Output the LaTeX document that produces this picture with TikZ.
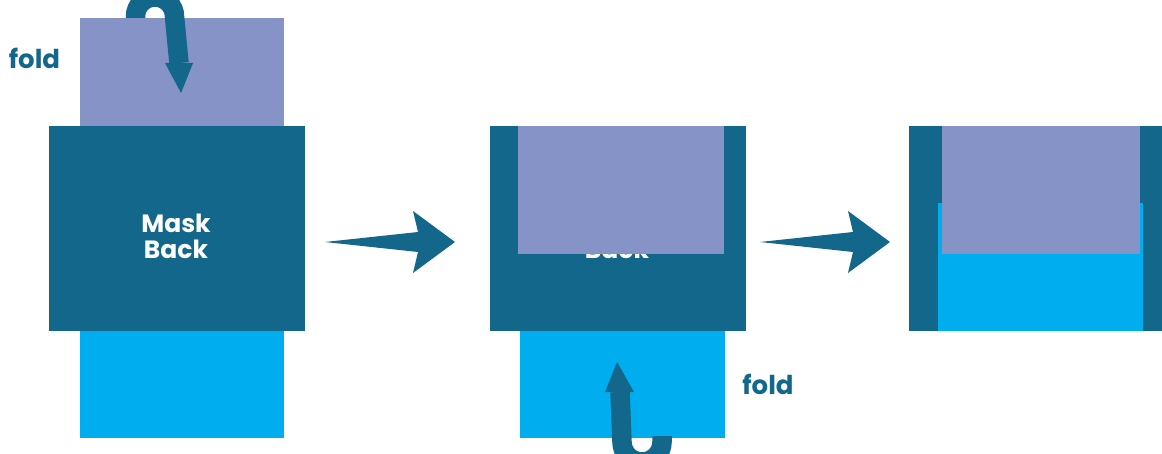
\documentclass[tikz,border=0pt]{standalone}
\usepackage{fontspec}
\setmainfont{Poppins}
\usepackage{tikz}
\definecolor{maskdark}{HTML}{13678A}
\definecolor{maskpurple}{HTML}{8593C7}
\definecolor{maskblue}{HTML}{00AEEF}

\begin{document}
\begin{tikzpicture}[x=1pt,y=-1pt]
  \tikzstyle{foldtext}=[text=maskdark,font=\bfseries\fontsize{26}{26}\selectfont]
  \tikzstyle{masktext}=[text=white,align=center,font=\bfseries\fontsize{25}{26}\selectfont]
  \tikzstyle{foldline}=[draw=maskdark,line width=19.5pt]
  \clip (0,0) rectangle (1162,454);
  \fill[white] (0,0) rectangle (1162,454);
  % flat mask
  \fill[maskpurple] (80,18) rectangle (284,126);
  \fill[maskblue] (80,331) rectangle (284,438);
  \fill[maskdark] (49,126) rectangle (305,331);
  \node[masktext] (back1) at (176,236) {Mask\\Back};
  \draw[foldline] (135.5,18) -- (135.5,16.5) arc[start angle=180,end angle=360,radius=19.5] -- (179,63);
  \fill[maskdark] (165,63) -- (193,63) -- (181,93) -- cycle;
  \node[foldtext,anchor=base] (fold1) at (34.5,69) {fold};
  % top folded down
  \fill[maskdark] (490,126) rectangle (746,331);
  \node[masktext] (back2) at (617,236) {Mask\\Back};
  \fill[maskpurple] (518,126) rectangle (724,254);
  \fill[maskblue] (520,331) rectangle (725,438);
  \draw[foldline] (662,436) -- (662,442) arc[start angle=0,end angle=180,radius=20] -- (620,392);
  \fill[maskdark] (605,392) -- (634,392) -- (617,362) -- cycle;
  \node[foldtext,anchor=base] (fold2) at (768,394) {fold};
  % both folded
  \fill[maskdark] (909,126) rectangle (1164,331);
  \fill[maskblue] (938,203) rectangle (1143,331);
  \fill[maskpurple] (942,126) rectangle (1140,254);
  % step arrows
  \foreach \dx in {0,435}
    \fill[maskdark] (325+\dx,242) -- (418+\dx,232) -- (413+\dx,211) -- (455+\dx,242)
      -- (413+\dx,273) -- (418+\dx,252) -- cycle;
\end{tikzpicture}
\end{document}
